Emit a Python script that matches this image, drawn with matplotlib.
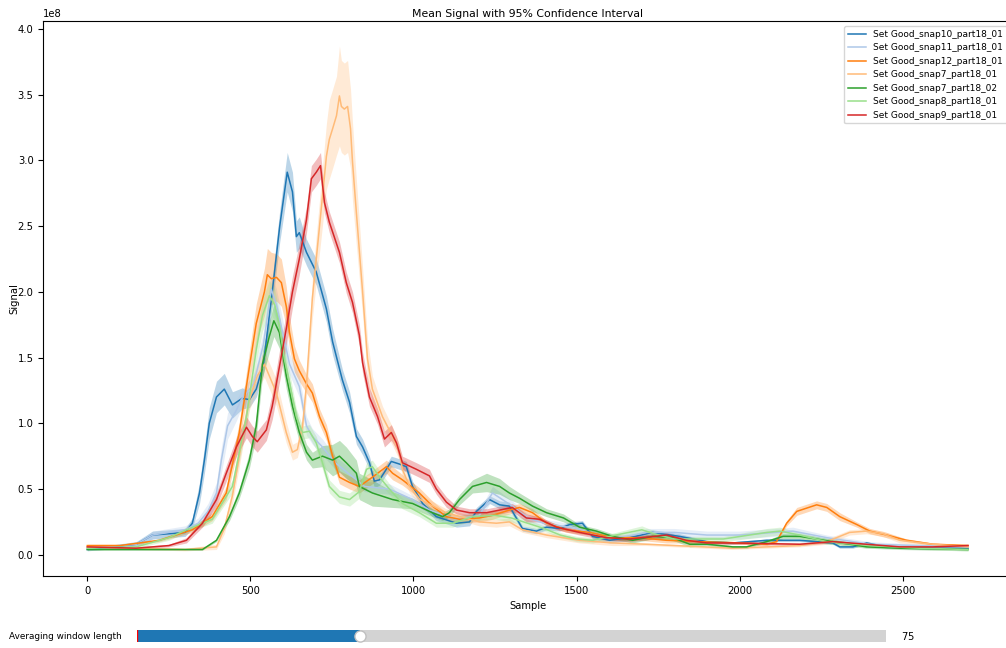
import numpy as np
import matplotlib
matplotlib.use("Agg")
import matplotlib.pyplot as plt
from matplotlib.widgets import Slider

plt.rcParams['font.size'] = 7.2

SCALE = 1e8  # signal values below are in units of 1e8

# (sample, mean, 95% CI half-width) for each recording set
snap10_01 = [(0, 0.04, 0.01), (150, 0.08, 0.02), (200, 0.15, 0.03), (300, 0.17, 0.03),
             (322, 0.24, 0.04), (344, 0.47, 0.08), (359, 0.72, 0.1), (374, 1.0, 0.12),
             (396, 1.2, 0.12), (420, 1.26, 0.12), (445, 1.14, 0.1), (475, 1.19, 0.08),
             (497, 1.18, 0.06), (518, 1.26, 0.06), (540, 1.45, 0.08), (567, 2.0, 0.1),
             (590, 2.5, 0.12), (613, 2.91, 0.15), (629, 2.76, 0.15), (641, 2.42, 0.12),
             (650, 2.45, 0.12), (672, 2.3, 0.1), (702, 2.15, 0.1), (733, 1.87, 0.1),
             (752, 1.62, 0.1), (782, 1.33, 0.08), (804, 1.16, 0.08), (825, 0.9, 0.06),
             (844, 0.82, 0.06), (865, 0.70, 0.05), (880, 0.56, 0.05), (896, 0.57, 0.04),
             (932, 0.71, 0.04), (957, 0.69, 0.04), (978, 0.67, 0.04), (997, 0.52, 0.04),
             (1028, 0.39, 0.03), (1070, 0.29, 0.03), (1132, 0.24, 0.03), (1172, 0.25, 0.03),
             (1193, 0.33, 0.03), (1233, 0.42, 0.03), (1264, 0.38, 0.03), (1294, 0.37, 0.03),
             (1334, 0.2, 0.02), (1377, 0.18, 0.02), (1408, 0.21, 0.02), (1448, 0.2, 0.02),
             (1479, 0.23, 0.02), (1518, 0.24, 0.02), (1549, 0.14, 0.02), (1601, 0.11, 0.02),
             (1663, 0.13, 0.02), (1733, 0.17, 0.02), (1816, 0.14, 0.02), (1899, 0.10, 0.01),
             (1979, 0.09, 0.01), (2083, 0.11, 0.01), (2184, 0.11, 0.01), (2285, 0.09, 0.01),
             (2307, 0.06, 0.01), (2347, 0.06, 0.01), (2389, 0.09, 0.01), (2451, 0.06, 0.01),
             (2592, 0.05, 0.01), (2700, 0.05, 0.01)]

snap11_01 = [(0, 0.05, 0.01), (150, 0.08, 0.01), (200, 0.15, 0.03), (300, 0.19, 0.03),
             (340, 0.24, 0.04), (370, 0.33, 0.06), (396, 0.47, 0.08), (411, 0.72, 0.1),
             (430, 0.98, 0.1), (457, 1.1, 0.08), (472, 1.18, 0.07), (510, 1.3, 0.07),
             (540, 1.6, 0.1), (564, 2.02, 0.12), (580, 1.9, 0.12), (598, 1.7, 0.1),
             (620, 1.45, 0.08), (650, 1.28, 0.08), (672, 0.98, 0.07), (690, 0.9, 0.06),
             (721, 0.82, 0.06), (760, 0.7, 0.05), (800, 0.62, 0.05), (850, 0.52, 0.04),
             (926, 0.5, 0.04), (997, 0.42, 0.03), (1049, 0.34, 0.03), (1132, 0.27, 0.03),
             (1202, 0.3, 0.04), (1242, 0.47, 0.05), (1303, 0.37, 0.04), (1350, 0.28, 0.03),
             (1400, 0.24, 0.03), (1450, 0.22, 0.03), (1500, 0.2, 0.03), (1550, 0.16, 0.02),
             (1600, 0.13, 0.02), (1650, 0.14, 0.02), (1715, 0.17, 0.03), (1800, 0.17, 0.03),
             (1900, 0.15, 0.03), (2000, 0.15, 0.03), (2163, 0.18, 0.03), (2267, 0.13, 0.02),
             (2400, 0.08, 0.02), (2550, 0.07, 0.01), (2700, 0.06, 0.01)]

snap12_01 = [(0, 0.07, 0.01), (100, 0.07, 0.01), (221, 0.11, 0.01), (322, 0.19, 0.02),
             (383, 0.29, 0.03), (426, 0.47, 0.05), (466, 0.93, 0.08), (497, 1.43, 0.12),
             (518, 1.76, 0.15), (543, 2.0, 0.18), (552, 2.13, 0.2), (564, 2.1, 0.2),
             (580, 2.11, 0.18), (595, 2.07, 0.18), (610, 1.89, 0.15), (620, 1.69, 0.12),
             (635, 1.49, 0.1), (650, 1.4, 0.08), (672, 1.3, 0.07), (690, 1.23, 0.07),
             (712, 1.05, 0.06), (733, 0.93, 0.06), (752, 0.75, 0.05), (773, 0.59, 0.05),
             (804, 0.55, 0.05), (834, 0.52, 0.05), (874, 0.59, 0.05), (917, 0.67, 0.05),
             (936, 0.62, 0.05), (966, 0.57, 0.04), (1018, 0.47, 0.04), (1058, 0.37, 0.04),
             (1101, 0.29, 0.03), (1141, 0.27, 0.03), (1202, 0.28, 0.03), (1242, 0.3, 0.03),
             (1294, 0.34, 0.03), (1325, 0.36, 0.03), (1365, 0.32, 0.03), (1408, 0.24, 0.02),
             (1469, 0.19, 0.02), (1540, 0.17, 0.02), (1610, 0.13, 0.02), (1693, 0.13, 0.02),
             (1776, 0.11, 0.02), (1877, 0.1, 0.01), (2000, 0.09, 0.01), (2083, 0.08, 0.01),
             (2113, 0.1, 0.01), (2144, 0.24, 0.02), (2175, 0.33, 0.03), (2236, 0.38, 0.03),
             (2267, 0.36, 0.03), (2307, 0.29, 0.03), (2359, 0.23, 0.02), (2399, 0.18, 0.02),
             (2451, 0.15, 0.02), (2512, 0.11, 0.01), (2592, 0.08, 0.01), (2700, 0.07, 0.01)]

snap7_01 = [(0, 0.06, 0.01), (150, 0.05, 0.01), (300, 0.04, 0.01), (396, 0.06, 0.02),
            (420, 0.2, 0.04), (445, 0.45, 0.06), (466, 0.75, 0.08), (482, 0.98, 0.08),
            (497, 1.18, 0.08), (521, 1.36, 0.1), (543, 1.45, 0.1), (580, 1.23, 0.1),
            (610, 0.93, 0.08), (629, 0.78, 0.06), (644, 0.8, 0.06), (660, 0.98, 0.08),
            (672, 1.3, 0.1), (690, 1.95, 0.15), (712, 2.5, 0.2), (733, 3.03, 0.25),
            (742, 3.16, 0.3), (752, 3.24, 0.3), (764, 3.34, 0.3), (773, 3.49, 0.38),
            (779, 3.41, 0.35), (788, 3.39, 0.35), (798, 3.41, 0.35), (807, 3.24, 0.3),
            (813, 2.99, 0.3), (825, 2.6, 0.25), (844, 2.0, 0.18), (859, 1.49, 0.15),
            (874, 1.26, 0.1), (905, 1.05, 0.08), (936, 0.9, 0.07), (957, 0.78, 0.06),
            (966, 0.65, 0.06), (988, 0.52, 0.05), (1020, 0.42, 0.04), (1100, 0.32, 0.03),
            (1202, 0.25, 0.03), (1254, 0.24, 0.03), (1294, 0.25, 0.03), (1334, 0.19, 0.02),
            (1408, 0.15, 0.02), (1509, 0.11, 0.02), (1610, 0.09, 0.02), (1715, 0.08, 0.01),
            (1979, 0.05, 0.01), (2184, 0.07, 0.01), (2267, 0.1, 0.02), (2337, 0.17, 0.02),
            (2389, 0.18, 0.02), (2439, 0.16, 0.02), (2491, 0.11, 0.02), (2592, 0.08, 0.01),
            (2700, 0.06, 0.01)]

snap7_02 = [(0, 0.04, 0.005), (353, 0.04, 0.005), (396, 0.11, 0.01), (436, 0.29, 0.03),
            (466, 0.47, 0.04), (497, 0.72, 0.06), (518, 0.98, 0.08), (537, 1.45, 0.1),
            (558, 1.66, 0.12), (572, 1.78, 0.12), (589, 1.69, 0.12), (610, 1.36, 0.1),
            (629, 1.13, 0.08), (650, 0.93, 0.07), (672, 0.78, 0.06), (690, 0.72, 0.06),
            (721, 0.75, 0.08), (752, 0.72, 0.12), (773, 0.75, 0.12), (794, 0.70, 0.12),
            (825, 0.62, 0.1), (834, 0.52, 0.1), (874, 0.47, 0.1), (936, 0.42, 0.06),
            (997, 0.39, 0.04), (1058, 0.32, 0.03), (1089, 0.29, 0.03), (1110, 0.32, 0.03),
            (1141, 0.42, 0.04), (1181, 0.52, 0.05), (1224, 0.55, 0.07), (1264, 0.52, 0.06),
            (1294, 0.47, 0.05), (1325, 0.43, 0.04), (1365, 0.37, 0.04), (1408, 0.32, 0.03),
            (1460, 0.28, 0.03), (1509, 0.21, 0.02), (1561, 0.18, 0.02), (1610, 0.14, 0.02),
            (1672, 0.11, 0.02), (1733, 0.14, 0.02), (1795, 0.13, 0.02), (1847, 0.08, 0.02),
            (1900, 0.08, 0.01), (1979, 0.06, 0.01), (2021, 0.06, 0.01), (2083, 0.1, 0.01),
            (2133, 0.14, 0.02), (2184, 0.14, 0.02), (2285, 0.1, 0.02), (2389, 0.06, 0.01),
            (2491, 0.05, 0.01), (2700, 0.04, 0.01)]

snap8_01 = [(0, 0.05, 0.01), (150, 0.06, 0.01), (250, 0.13, 0.02), (304, 0.19, 0.02),
            (383, 0.27, 0.03), (445, 0.52, 0.05), (488, 1.05, 0.08), (518, 1.56, 0.1),
            (537, 1.82, 0.12), (558, 1.97, 0.12), (575, 1.9, 0.12), (589, 1.74, 0.1),
            (604, 1.49, 0.1), (620, 1.31, 0.08), (641, 1.05, 0.06), (660, 0.93, 0.05),
            (681, 0.94, 0.05), (702, 0.85, 0.05), (721, 0.70, 0.05), (742, 0.52, 0.05),
            (773, 0.44, 0.05), (804, 0.42, 0.05), (834, 0.48, 0.05), (856, 0.65, 0.05),
            (874, 0.67, 0.05), (896, 0.59, 0.05), (926, 0.5, 0.04), (966, 0.39, 0.04),
            (1018, 0.32, 0.03), (1070, 0.24, 0.03), (1120, 0.24, 0.03), (1181, 0.29, 0.03),
            (1250, 0.3, 0.03), (1300, 0.28, 0.03), (1350, 0.24, 0.03), (1400, 0.2, 0.02),
            (1450, 0.15, 0.02), (1500, 0.12, 0.02), (1550, 0.11, 0.02), (1620, 0.15, 0.02),
            (1700, 0.19, 0.03), (1750, 0.15, 0.02), (1800, 0.12, 0.02), (1950, 0.12, 0.02),
            (2083, 0.17, 0.03), (2123, 0.18, 0.03), (2184, 0.15, 0.02), (2267, 0.1, 0.02),
            (2400, 0.07, 0.01), (2550, 0.05, 0.01), (2700, 0.04, 0.01)]

snap9_01 = [(0, 0.06, 0.01), (150, 0.05, 0.01), (250, 0.07, 0.01), (304, 0.11, 0.02),
            (353, 0.24, 0.03), (396, 0.42, 0.05), (426, 0.62, 0.06), (457, 0.82, 0.07),
            (488, 0.97, 0.08), (506, 0.9, 0.08), (521, 0.86, 0.08), (549, 0.95, 0.08),
            (567, 1.13, 0.1), (589, 1.43, 0.12), (610, 1.72, 0.12), (629, 2.0, 0.12),
            (650, 2.25, 0.12), (672, 2.55, 0.1), (687, 2.86, 0.1), (702, 2.91, 0.1),
            (715, 2.96, 0.1), (727, 2.68, 0.08), (742, 2.53, 0.08), (773, 2.3, 0.08),
            (794, 2.07, 0.08), (813, 1.92, 0.08), (834, 1.67, 0.08), (844, 1.46, 0.08),
            (865, 1.2, 0.07), (890, 1.05, 0.06), (911, 0.88, 0.06), (932, 0.93, 0.06),
            (948, 0.85, 0.05), (966, 0.7, 0.05), (1009, 0.65, 0.05), (1049, 0.6, 0.05),
            (1070, 0.5, 0.04), (1101, 0.4, 0.04), (1132, 0.34, 0.03), (1172, 0.32, 0.03),
            (1224, 0.32, 0.03), (1264, 0.34, 0.03), (1303, 0.36, 0.03), (1346, 0.28, 0.03),
            (1387, 0.27, 0.02), (1439, 0.21, 0.02), (1509, 0.17, 0.02), (1592, 0.13, 0.02),
            (1663, 0.12, 0.02), (1776, 0.15, 0.02), (1837, 0.11, 0.02), (1899, 0.09, 0.01),
            (1979, 0.09, 0.01), (2184, 0.08, 0.01), (2285, 0.1, 0.01), (2389, 0.08, 0.01),
            (2491, 0.06, 0.01), (2592, 0.06, 0.01), (2700, 0.07, 0.01)]

set_names = ["Set Good_snap10_part18_01", "Set Good_snap11_part18_01",
             "Set Good_snap12_part18_01", "Set Good_snap7_part18_01",
             "Set Good_snap7_part18_02", "Set Good_snap8_part18_01",
             "Set Good_snap9_part18_01"]
set_data = [snap10_01, snap11_01, snap12_01, snap7_01, snap7_02, snap8_01, snap9_01]

window_length = 75

colors = plt.get_cmap('tab20').colors

fig = plt.figure(figsize=(10.06, 6.48), dpi=100)
ax = fig.add_axes([0.043, 0.111, 0.963, 0.857])

for i, (name, rows) in enumerate(zip(set_names, set_data)):
    arr = np.array(rows)
    x, mean, ci = arr[:, 0], arr[:, 1] * SCALE, arr[:, 2] * SCALE
    ax.plot(x, mean, color=colors[i], lw=1.1, label=name)
    ax.fill_between(x, mean - ci, mean + ci, color=colors[i], alpha=0.3, lw=0)

ax.set_title("Mean Signal with 95% Confidence Interval", fontsize=7.8, pad=3)
ax.set_xlabel("Sample")
ax.set_ylabel("Signal", labelpad=-1)
ax.legend(loc='upper right', fontsize=6.5, borderaxespad=0.6)

# slider for the moving average window
ax_slider = fig.add_axes([0.1362, 0.0, 0.7445, 0.037])
slider = Slider(ax_slider, "Averaging window length", 1, 250, valinit=1, valstep=1,
                handle_style={'size': 8})
slider.label.set_fontsize(6.4)
slider.set_val(window_length)

fig.savefig("out.png", dpi=100)
